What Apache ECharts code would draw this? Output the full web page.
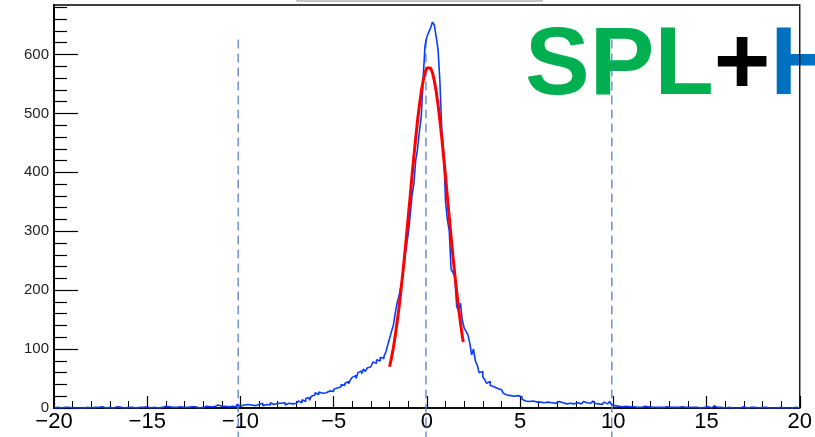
<!DOCTYPE html>
<html><head><meta charset="utf-8">
<script src="https://cdn.jsdelivr.net/npm/echarts@6/dist/echarts.min.js"></script>
<style>html,body{margin:0;padding:0;background:#fff}#c{width:815px;height:437px}</style>
</head><body><div id="c"></div>
<script>
// histogram: 400 bins of width 0.1 from -20 to 20
const binStart = -20;
const binWidth = 0.1;
const counts = [
  0,1,0,0,2,1,0,1,0,0,
  1,0,2,0,1,0,0,1,2,0,
  0,1,0,1,0,2,1,0,0,1,
  1,0,1,2,0,1,1,0,2,1,
  0,1,1,0,2,1,0,1,1,2,
  1,0,2,1,1,0,2,1,1,3,
  1,2,0,1,2,1,1,2,0,1,
  2,1,3,2,1,2,1,0,2,1,
  2,3,1,2,4,2,3,5,2,3,
  2,3,4,2,5,3,4,2,6,3,
  4,5,3,6,4,5,7,4,5,6,
  5,8,4,6,7,5,9,6,7,8,
  6,8,7,9,5,8,10,7,9,8,
  10,12,9,14,11,16,18,13,20,22,
  26,23,27,25,28,26,27,29,30,28,
  32,34,31,36,40,38,42,45,41,48,
  52,55,50,60,63,58,66,62,68,70,
  72,78,76,82,80,86,84,88,95,107,
  118,130,140,160,178,190,205,225,250,275,
  295,325,360,380,420,440,470,495,560,615,
  630,638,645,655,650,630,608,553,470,435,
  350,320,300,235,230,221,172,165,178,149,
  136,130,124,110,90,100,80,73,60,62,
  53,48,42,45,38,36,38,33,30,31,
  28,25,22,24,21,22,20,19,21,18,
  19,15,12,10,11,10,12,9,10,11,
  10,11,9,8,10,12,9,10,8,9,
  11,8,9,10,7,9,8,10,7,8,
  9,12,7,8,11,9,7,8,10,12,
  8,7,9,6,8,10,7,9,11,6,
  4,2,3,3,2,1,3,2,2,1,
  2,3,1,2,1,2,3,1,2,2,
  1,2,1,3,1,2,1,1,2,1,
  1,3,1,2,1,0,2,1,1,2,
  1,0,1,2,1,1,0,2,1,1,
  2,1,0,1,4,1,0,1,1,0,
  0,1,2,0,1,0,1,0,0,2,
  1,0,0,1,0,1,1,0,0,1,
  0,1,0,0,2,0,1,0,0,1,
  0,0,1,0,1,0,0,1,0,0
];
// fitted curve (red)
const fitX = [-2.0,-1.9,-1.8,-1.7,-1.6,-1.5,-1.4,-1.3,-1.2,-1.1,
  -1.0,-0.9,-0.8,-0.7,-0.6,-0.5,-0.4,-0.3,-0.2,-0.1,
  0.0,0.1,0.2,0.3,0.4,0.5,0.6,0.7,0.8,0.9,
  1.0,1.1,1.2,1.3,1.4,1.5,1.6,1.7,1.8,1.9,1.95];
const fitY = [70,85,102,122,145,169,197,226,257,290,
  324,358,393,426,458,488,514,537,555,569,
  577,580,577,569,555,537,514,488,458,426,
  393,358,324,290,257,226,197,169,145,122,112];
// dashed vertical markers
const dashX = [-10.12, -0.05, 9.92];
const dashRange = [-55, 633];
// axes
const xRange = [-20, 20];
const yRange = [0, 684];
const yMajorTicks = [0,100,200,300,400,500,600];
const yMinorTicks = [20,40,60,80,120,140,160,180,220,240,260,280,320,340,360,380,420,440,460,480,520,540,560,580,620,640,660,680];

const FONT = "'Liberation Sans', Arial, Helvetica, sans-serif";

const histData = counts.map((c, i) => [binStart + i * binWidth, c]);
histData.push([binStart + counts.length * binWidth, counts[counts.length - 1]]);
const fitData = fitX.map((x, i) => [x, fitY[i]]);

const dashSeries = dashX.map(x => ({
  type: 'line', data: [[x, dashRange[0]], [x, dashRange[1]]],
  showSymbol: false, clip: false, silent: true, z: 1,
  lineStyle: { color: '#5b7fd0', width: 1.3, type: [9, 5] }
}));

const chart = echarts.init(document.getElementById('c'), null, { renderer: 'canvas' });
chart.setOption({
  animation: false,
  backgroundColor: '#fff',
  grid: { left: 54, right: 15, top: 5, bottom: 29, show: true, borderColor: '#000', borderWidth: 1.3, backgroundColor: 'transparent' },
  xAxis: {
    type: 'value', min: xRange[0], max: xRange[1], interval: 5,
    axisLine: { onZero: false, lineStyle: { color: '#000', width: 1.5 } },
    axisTick: { inside: true, length: 12, lineStyle: { color: '#000', width: 1.2 } },
    minorTick: { show: true, splitNumber: 5, length: 7, lineStyle: { color: '#000', width: 1 } },
    splitLine: { show: false },
    axisLabel: { fontSize: 22, color: '#000', fontFamily: FONT, margin: 3,
      formatter: v => (v < 0 ? '\u2212' + Math.abs(v) : String(v)) }
  },
  yAxis: [{
    type: 'value', min: yRange[0], max: yRange[1], interval: 100,
    axisLine: { show: true, onZero: false, lineStyle: { color: '#000', width: 2 } },
    axisTick: { inside: true, length: 24, customValues: yMajorTicks, lineStyle: { color: '#000', width: 1.2 } },
    splitLine: { show: false },
    axisLabel: { fontSize: 15, color: '#222', fontFamily: FONT, margin: 5, customValues: yMajorTicks }
  }, {
    type: 'value', min: yRange[0], max: yRange[1], position: 'left',
    axisLine: { show: false, onZero: false },
    axisTick: { show: true, inside: true, length: 13, customValues: yMinorTicks, lineStyle: { color: '#000', width: 1.2 } },
    splitLine: { show: false },
    axisLabel: { show: false }
  }],
  graphic: [
    { type: 'rect', shape: { x: 297, y: -30, width: 245, height: 31 }, style: { fill: '#fff', stroke: '#888', lineWidth: 1 } },
    { type: 'text', z: -10, x: 525, y: 19,
      style: { text: '{g|SPL}{k|+}{b|H}', verticalAlign: 'top',
        rich: {
          g: { fontSize: 97, fontWeight: 'bold', fontFamily: FONT, fill: '#00b050', lineHeight: 97 },
          k: { fontSize: 97, fontWeight: 'bold', fontFamily: FONT, fill: '#000', lineHeight: 97 },
          b: { fontSize: 97, fontWeight: 'bold', fontFamily: FONT, fill: '#0070c0', lineHeight: 97 }
        } } }
  ],
  series: [
    ...dashSeries,
    { type: 'line', data: histData, step: 'end', showSymbol: false, z: 3,
      lineStyle: { color: '#0a3cff', width: 1.6 } },
    { type: 'line', data: fitData, showSymbol: false, z: 4,
      lineStyle: { color: '#ff0000', width: 3 } }
  ]
});
</script>
</body></html>
